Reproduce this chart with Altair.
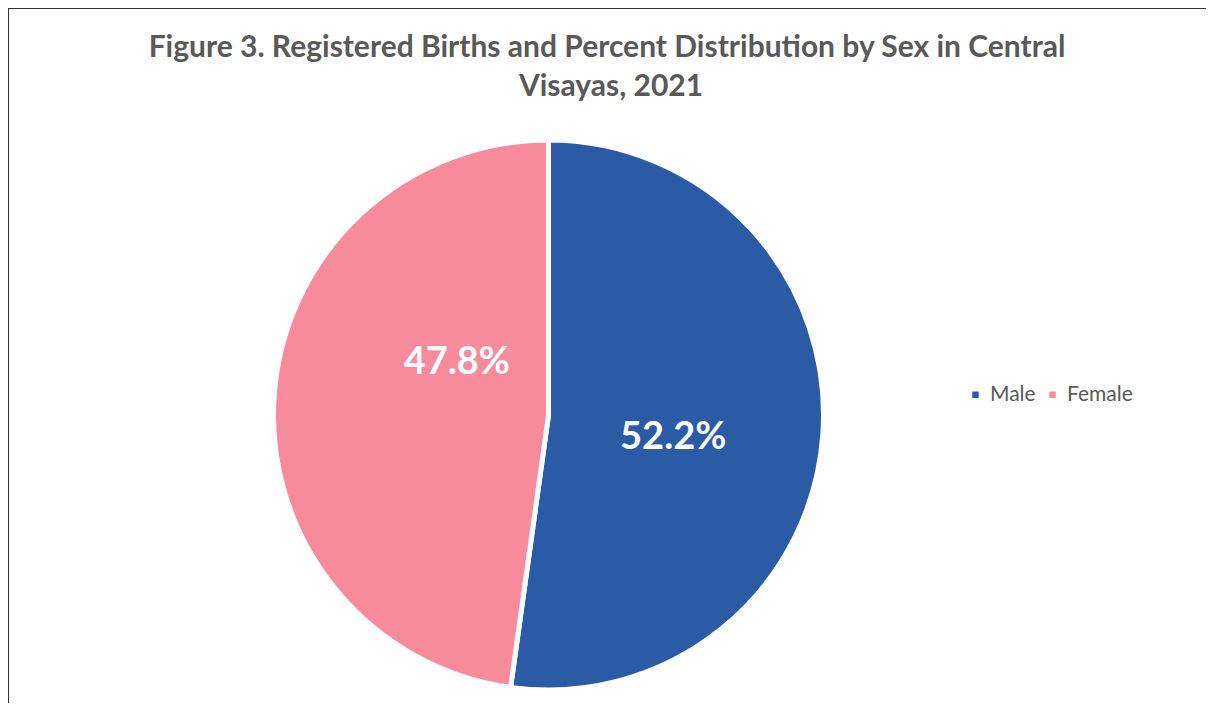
import altair as alt
import pandas as pd

sexes = ["Male", "Female"]
percents = [52.2, 47.8]
order_idx = [0, 1]
labels = ["52.2%", "47.8%"]
colors = ["#2b5ba4", "#f78b9c"]
title_line1 = "Figure 3. Registered Births and Percent Distribution by Sex in Central"
title_line2 = "Visayas, 2021"

df = pd.DataFrame({"sex": sexes, "pct": percents, "ord": order_idx, "label": labels})
W, H = 1198, 695
CX, CY = 540.5, 407

def base():
    return alt.Chart(df).encode(
        theta=alt.Theta("pct:Q", stack=True),
        order=alt.Order("ord:Q"),
    )

pie = base().mark_arc(radius=275, stroke="white", strokeWidth=5).encode(
    x=alt.value(CX), y=alt.value(CY),
    color=alt.Color("sex:N", scale=alt.Scale(domain=sexes, range=colors),
                    sort=sexes,
                    legend=alt.Legend(title=None, orient="none", direction="horizontal",
                                      legendX=957, legendY=376, symbolType="square",
                                      symbolSize=42, labelFontSize=21, labelFont="Lato",
                                      labelColor="#595959", columnPadding=6,
                                      symbolStrokeWidth=0, labelOffset=4)),
)

lab_m = base().mark_text(radius=125, font="Lato", fontWeight="bold", fontSize=38,
                         color="white", dy=14).encode(
    x=alt.value(CX), y=alt.value(CY), text="label:N",
    opacity=alt.condition(alt.datum.sex == "Male", alt.value(1), alt.value(0)),
)
lab_f = base().mark_text(radius=125, font="Lato", fontWeight="bold", fontSize=38,
                         color="white", dx=33, dy=-43).encode(
    x=alt.value(CX), y=alt.value(CY), text="label:N",
    opacity=alt.condition(alt.datum.sex == "Female", alt.value(1), alt.value(0)),
)

t1 = alt.Chart(pd.DataFrame({"t": [title_line1]})).mark_text(
    font="Lato", fontWeight="bold", fontSize=30, color="#595959",
    align="center", baseline="middle").encode(x=alt.value(599), y=alt.value(40), text="t:N")
t2 = alt.Chart(pd.DataFrame({"t": [title_line2]})).mark_text(
    font="Lato", fontWeight="bold", fontSize=30, color="#595959",
    align="center", baseline="middle").encode(x=alt.value(603), y=alt.value(79), text="t:N")

frame_top = alt.Chart(df).mark_rule(color="#333333", strokeWidth=2).encode(
    x=alt.value(0), x2=alt.value(W), y=alt.value(0))
frame_left = alt.Chart(df).mark_rule(color="#333333", strokeWidth=2).encode(
    x=alt.value(0), y=alt.value(0), y2=alt.value(H))

chart = alt.layer(pie, lab_m, lab_f, t1, t2, frame_top, frame_left).properties(
    width=W, height=H, padding=0, autosize=alt.AutoSizeParams(type="none")
).configure_view(stroke=None)

chart.save("out.html", embed_options={"renderer": "svg", "actions": False})
